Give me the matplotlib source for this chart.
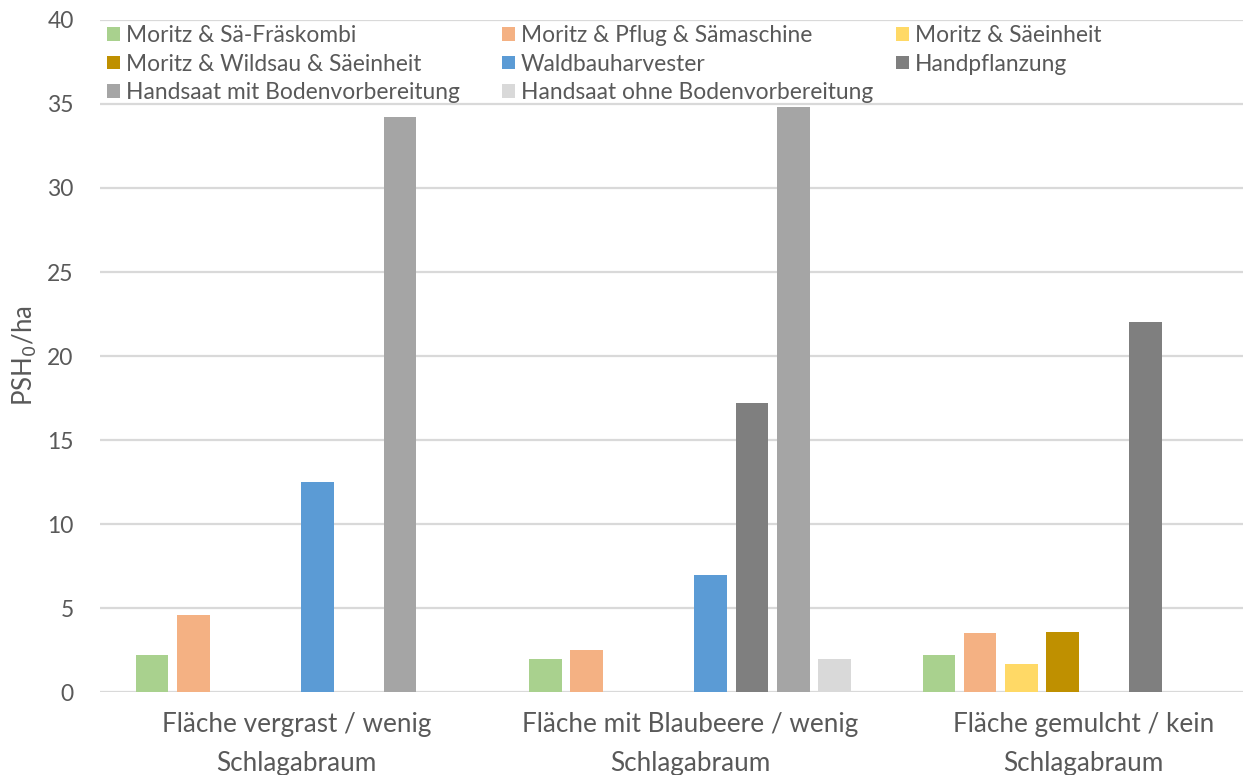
import matplotlib
matplotlib.use("Agg")
import matplotlib.pyplot as plt
from matplotlib.legend import Legend
from matplotlib.transforms import IdentityTransform
import numpy as np

categories = ["Fläche vergrast / wenig\nSchlagabraum",
              "Fläche mit Blaubeere / wenig\nSchlagabraum",
              "Fläche gemulcht / kein\nSchlagabraum"]
series_names = ["Moritz & Sä-Fräskombi", "Moritz & Pflug & Sämaschine", "Moritz & Säeinheit",
                "Moritz & Wildsau & Säeinheit", "Waldbauharvester", "Handpflanzung",
                "Handsaat mit Bodenvorbereitung", "Handsaat ohne Bodenvorbereitung"]
colors = ["#A9D18E", "#F4B183", "#FFD966", "#BF9000", "#5B9BD5", "#7F7F7F", "#A5A5A5", "#D9D9D9"]
# values per series, one per category (nan = no bar)
nan = np.nan
values = [
    [2.2, 2.0, 2.2],
    [4.6, 2.5, 3.5],
    [nan, nan, 1.7],
    [nan, nan, 3.6],
    [12.5, 7.0, nan],
    [nan, 17.2, 22.0],
    [34.2, 34.8, nan],
    [nan, 2.0, nan],
]
yticks = [0, 5, 10, 15, 20, 25, 30, 35, 40]

TXT = "#595959"
plt.rcParams["font.family"] = ["Lato", "DejaVu Sans"]

fig = plt.figure(figsize=(12.43, 7.75), dpi=100)
ax = fig.add_axes([100 / 1243, 82.7 / 775, 1180 / 1243, 672.4 / 775])

x = np.arange(len(categories))
slot = 0.105
width = 0.0827
bars = []
for i, (name, col, vals) in enumerate(zip(series_names, colors, values)):
    b = ax.bar(x + (i - 3.5) * slot, vals, width=width, color=col, label=name, zorder=3)
    bars.append(b)

ax.set_xlim(-0.5, 2.5)
ax.set_ylim(0, 40)
ax.set_yticks(yticks)
ax.set_xticks(x)
ax.set_xticklabels(categories, fontsize=18.8, color=TXT, linespacing=1.72)
ax.tick_params(axis="both", length=0, colors=TXT)
ax.tick_params(axis="y", labelsize=16.5, pad=19)
ax.tick_params(axis="x", pad=14)
ax.grid(axis="y", color="#D9D9D9", linewidth=1.6, zorder=0)
for s in ax.spines.values():
    s.set_visible(False)
ax.set_ylabel("PSH$_0$/ha", fontsize=18.5, color=TXT, labelpad=6)

# legend in three equally spaced columns, filled row by row
col_x = [107, 502, 896]
for c in range(3):
    idx = list(range(c, len(series_names), 3))
    leg = Legend(ax, [bars[k] for k in idx], [series_names[k] for k in idx],
                 loc="upper left",
                 bbox_to_anchor=(col_x[c], 775 - 25), bbox_transform=IdentityTransform(),
                 frameon=False, fontsize=16.4, handlelength=0.55, handleheight=0.55,
                 handletextpad=0.28, labelspacing=0.33, borderaxespad=0, borderpad=0,
                 labelcolor=TXT)
    ax.add_artist(leg)

fig.savefig("out.png", dpi=100)
